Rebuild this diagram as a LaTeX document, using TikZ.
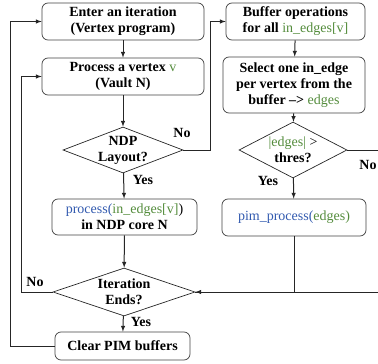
\documentclass[tikz,border=0pt]{standalone}
\usepackage{fontspec}
\setmainfont{Liberation Serif}
\usetikzlibrary{shapes.geometric}
\definecolor{vargreen}{RGB}{84,140,60}
\definecolor{funcblue}{RGB}{50,90,175}
\tikzset{
	box/.style={draw=black!75, rounded corners=6pt, line width=0.7pt, align=center, inner sep=0pt, font=\fontsize{14}{16}\selectfont\bfseries},
	decision/.style={draw=black!85, diamond, line width=0.7pt, inner sep=0pt},
	txt/.style={align=center, inner sep=0pt, font=\fontsize{14}{16}\selectfont\bfseries},
	flow/.style={line width=1pt, draw=black!85},
}
\begin{document}
\begin{tikzpicture}[x=1pt, y=-1pt]
	\useasboundingbox (0,0) rectangle (378,364);
	
	%Left column
	\node[box, minimum width=162, minimum height=37] (enter) at (123,21.5) {Enter an iteration\\(Vertex program)};
	\node[box, minimum width=162, minimum height=37] (vertex) at (123,76.5) {Process a vertex \textcolor{vargreen}{\mdseries v}\\(Vault N)};
	\node[decision, minimum width=120, minimum height=46] (ndp) at (123,150) {};
	\node[txt] (ndptxt) at (ndp) {NDP\\Layout?};
	\node[box, minimum width=145, minimum height=36] (process) at (124.5,217) {\mdseries\textcolor{funcblue}{process(}\textcolor{vargreen}{in\_edges[v]})\\\bfseries in NDP core N};
	\node[decision, minimum width=142, minimum height=48] (iter) at (124,292) {};
	\node[txt] (itertxt) at (iter) {Iteration\\Ends?};
	\node[box, minimum width=135, minimum height=28] (clear) at (122.5,346) {Clear PIM buffers};
	
	%Right column
	\node[box, minimum width=139, minimum height=37] (buffer) at (295.5,21.5) {Buffer operations\\for all \textcolor{vargreen}{\mdseries in\_edges[v]}};
	\node[box, minimum width=142, minimum height=56] (select) at (294,85) {Select one in\_edge\\per vertex from the\\buffer \textendash> \textcolor{vargreen}{\mdseries edges}};
	\node[decision, minimum width=108, minimum height=56] (thres) at (293,150) {};
	\node[txt] (threstxt) at (thres) {\mdseries\textcolor{vargreen}{|edges|} >\\\bfseries thres?};
	\node[box, minimum width=144, minimum height=37] (pim) at (294,217.5) {\mdseries\textcolor{funcblue}{pim\_process(}\textcolor{vargreen}{edges)}};
	
	%Labels
	\node[txt] (yes1) at (143,180) {Yes};
	\node[txt] (yes2) at (141,322) {Yes};
	\node[txt] (yes3) at (268,181) {Yes};
	\node[txt] (no1) at (182,133) {No};
	\node[txt] (no2) at (35,282) {No};
	\node[txt] (no3) at (368,165) {No};
	
	%Connectors
	\coordinate (ndpturn) at (210,150);
	\coordinate (rgt) at (381,150);
	\coordinate (outer) at (10,0);
	\coordinate (inner) at (21,0);
	\draw[flow, -latex] (enter) -- (vertex);
	\draw[flow, -latex] (vertex) -- (ndp);
	\draw[flow, -latex] (ndp) -- (process);
	\draw[flow, -latex] (process) -- (iter);
	\draw[flow, -latex] (iter) -- (clear);
	\draw[flow, -latex] (ndp.east) -- (ndpturn) |- (buffer.west);
	\draw[flow, -latex] (buffer) -- (select);
	\draw[flow, -latex] (select) -- (thres);
	\draw[flow, -latex] (thres) -- (pim);
	\draw[flow, -latex] (pim.south) |- (iter.east);
	\draw[flow] (thres.east) -- (rgt) |- (iter.east);
	\draw[flow, -latex] (iter.west) -- (inner |- iter.west) -- (inner |- vertex.west) -- (vertex.west);
	\draw[flow, -latex] (clear.west) -- (outer |- clear.west) -- (outer |- enter.west) -- (enter.west);
\end{tikzpicture}
\end{document}
